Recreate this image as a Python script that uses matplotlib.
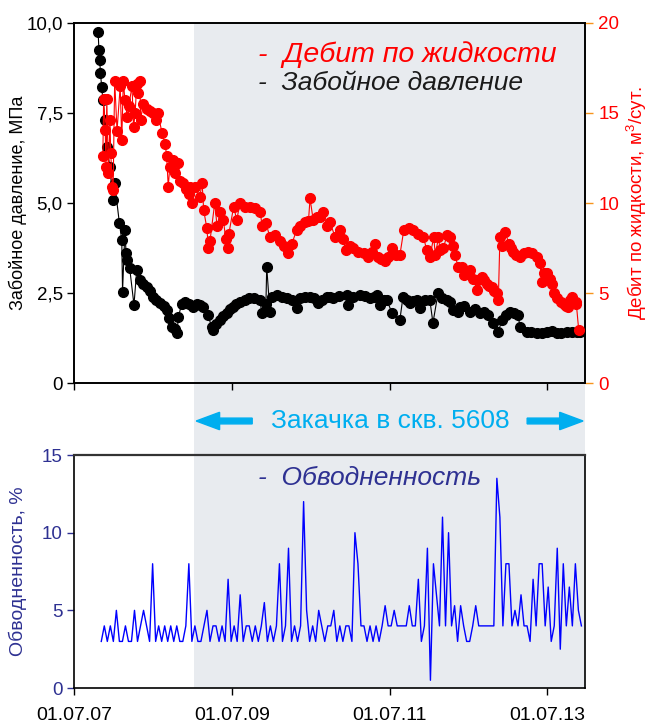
import numpy as np
import matplotlib
matplotlib.use('Agg')
from matplotlib import pyplot as plt
from matplotlib.patches import Rectangle, FancyArrow

plt.rcParams['font.family'] = ['Liberation Sans', 'DejaVu Sans']
plt.rcParams['mathtext.default'] = 'regular'

# ---- data (time in decimal years) ----
p_year = [2007.80, 2007.81, 2007.82, 2007.83, 2007.845, 2007.86, 2007.89, 2007.91, 2007.95, 2007.985,
          2008.01, 2008.07, 2008.10, 2008.11, 2008.14, 2008.155, 2008.17, 2008.20, 2008.255, 2008.29,
          2008.33, 2008.37, 2008.42, 2008.46, 2008.50, 2008.54, 2008.585, 2008.63, 2008.67, 2008.70,
          2008.735, 2008.77, 2008.80, 2008.82, 2008.86, 2008.905, 2008.95, 2009.005, 2009.05, 2009.09,
          2009.13, 2009.195, 2009.24, 2009.26, 2009.30, 2009.35, 2009.39, 2009.43, 2009.47, 2009.51,
          2009.55, 2009.60, 2009.66, 2009.72, 2009.78, 2009.85, 2009.88, 2009.93, 2009.94, 2009.98,
          2010.01, 2010.07, 2010.13, 2010.195, 2010.26, 2010.32, 2010.36, 2010.42, 2010.49, 2010.54,
          2010.59, 2010.64, 2010.70, 2010.74, 2010.78, 2010.86, 2010.955, 2010.97, 2011.04, 2011.125,
          2011.19, 2011.25, 2011.30, 2011.34, 2011.38, 2011.43, 2011.465, 2011.53, 2011.63, 2011.67,
          2011.72, 2011.76, 2011.80, 2011.845, 2011.89, 2011.95, 2012.01, 2012.05, 2012.115, 2012.17,
          2012.225, 2012.27, 2012.305, 2012.37, 2012.395, 2012.45, 2012.52, 2012.58, 2012.65, 2012.70,
          2012.75, 2012.815, 2012.88, 2012.925, 2012.98, 2013.03, 2013.08, 2013.13, 2013.155, 2013.24,
          2013.30, 2013.37, 2013.43, 2013.495, 2013.56, 2013.62, 2013.68, 2013.75, 2013.81, 2013.875,
          2013.92]
pressure = [9.76, 9.25, 8.97, 8.6, 8.23, 7.86, 7.3, 6.56, 6.0, 5.08,
            5.55, 4.44, 3.97, 2.54, 4.25, 3.6, 3.42, 3.2, 2.17, 3.14,
            2.86, 2.75, 2.67, 2.55, 2.40, 2.30, 2.22, 2.15, 2.03, 1.80,
            1.56, 1.50, 1.39, 1.84, 2.20, 2.26, 2.20, 2.12, 2.20, 2.17,
            2.12, 1.89, 1.56, 1.47, 1.65, 1.75, 1.85, 1.94, 2.05, 2.12,
            2.20, 2.26, 2.30, 2.36, 2.36, 2.31, 1.94, 2.20, 3.23, 1.98,
            2.40, 2.44, 2.40, 2.36, 2.30, 2.08, 2.36, 2.40, 2.40, 2.35,
            2.22, 2.30, 2.40, 2.38, 2.36, 2.42, 2.44, 2.17, 2.40, 2.44,
            2.42, 2.36, 2.40, 2.44, 2.17, 2.30, 2.31, 1.94, 1.75, 2.40,
            2.30, 2.22, 2.28, 2.31, 2.08, 2.30, 2.31, 1.67, 2.50, 2.35,
            2.31, 2.25, 2.03, 1.98, 2.12, 2.15, 1.98, 2.05, 1.94, 1.98,
            1.89, 1.67, 1.42, 1.75, 1.90, 1.98, 1.95, 1.89, 1.56, 1.42,
            1.42, 1.39, 1.40, 1.42, 1.45, 1.39, 1.40, 1.42, 1.42, 1.42,
            1.42]

q_year = [2007.86, 2007.87, 2007.89, 2007.90, 2007.91, 2007.93, 2007.95, 2007.96, 2007.98, 2007.99,
          2008.01, 2008.04, 2008.08, 2008.10, 2008.12, 2008.14, 2008.17, 2008.19, 2008.23, 2008.25,
          2008.27, 2008.29, 2008.31, 2008.33, 2008.34, 2008.37, 2008.42, 2008.46, 2008.50, 2008.54,
          2008.56, 2008.61, 2008.65, 2008.67, 2008.69, 2008.71, 2008.75, 2008.78, 2008.82, 2008.84,
          2008.88, 2008.92, 2008.95, 2008.97, 2008.99, 2009.03, 2009.09, 2009.12, 2009.14, 2009.18,
          2009.20, 2009.22, 2009.28, 2009.31, 2009.35, 2009.39, 2009.42, 2009.45, 2009.46, 2009.52,
          2009.56, 2009.60, 2009.67, 2009.73, 2009.79, 2009.86, 2009.88, 2009.93, 2009.98, 2010.05,
          2010.11, 2010.16, 2010.21, 2010.26, 2010.32, 2010.36, 2010.43, 2010.47, 2010.49, 2010.53,
          2010.58, 2010.62, 2010.66, 2010.70, 2010.74, 2010.81, 2010.87, 2010.91, 2010.94, 2011.00,
          2011.04, 2011.10, 2011.17, 2011.23, 2011.28, 2011.32, 2011.35, 2011.39, 2011.44, 2011.48,
          2011.53, 2011.58, 2011.63, 2011.68, 2011.74, 2011.80, 2011.86, 2011.93, 2011.97, 2012.01,
          2012.06, 2012.08, 2012.12, 2012.14, 2012.18, 2012.23, 2012.27, 2012.31, 2012.33, 2012.37,
          2012.42, 2012.45, 2012.48, 2012.52, 2012.56, 2012.61, 2012.62, 2012.67, 2012.70, 2012.73,
          2012.76, 2012.80, 2012.83, 2012.86, 2012.88, 2012.90, 2012.93, 2012.97, 2013.01, 2013.04,
          2013.07, 2013.11, 2013.16, 2013.21, 2013.26, 2013.31, 2013.37, 2013.41, 2013.43, 2013.46,
          2013.50, 2013.53, 2013.56, 2013.59, 2013.62, 2013.67, 2013.71, 2013.74, 2013.77, 2013.79,
          2013.81, 2013.86, 2013.87, 2013.90]
rate = [12.6, 15.8, 14.05, 12.0, 15.8, 11.65, 14.6, 12.8, 10.9, 10.7,
        16.8, 14.0, 16.5, 13.5, 16.8, 15.7, 14.8, 15.4, 16.5, 14.2,
        15.0, 16.6, 16.1, 16.8, 14.6, 15.5, 15.2, 15.1, 15.0, 14.6,
        15.0, 13.9, 13.3, 12.6, 10.9, 12.0, 12.4, 11.65, 12.2, 11.2,
        11.1, 10.8, 10.5, 10.9, 10.0, 10.9, 10.35, 11.1, 9.6, 8.6,
        7.5, 7.9, 10.0, 8.7, 9.5, 9.05, 8.0, 7.5, 8.3, 9.8,
        9.05, 10.0, 9.8, 9.8, 9.7, 9.5, 8.7, 8.9, 8.1, 8.2,
        7.9, 7.6, 7.2, 7.75, 8.5, 8.7, 8.95, 9.0, 10.25, 9.05,
        9.2, 9.25, 9.5, 8.7, 8.95, 8.1, 8.5, 8.0, 7.4, 7.6,
        7.5, 7.3, 7.2, 7.0, 7.3, 7.75, 7.0, 6.9, 6.8, 7.0,
        7.5, 7.1, 7.1, 8.5, 8.6, 8.5, 8.3, 8.1, 7.4, 7.0,
        8.1, 7.1, 8.1, 7.4, 7.5, 8.2, 8.1, 7.6, 7.1, 6.45,
        6.45, 6.0, 6.1, 6.3, 5.8, 5.15, 5.7, 5.9, 5.7, 5.5,
        5.4, 5.35, 5.1, 5.0, 4.6, 8.1, 7.6, 8.4, 7.75, 7.5,
        7.3, 7.1, 7.0, 7.2, 7.3, 7.2, 7.0, 6.65, 5.6, 6.1,
        6.1, 5.8, 5.5, 5.0, 4.7, 4.5, 4.4, 4.3, 4.25, 4.6,
        4.8, 4.5, 4.4, 2.95]

# water cut, one value every two weeks from 01.11.2007
wc_start = 2007.84
wc_step = 14 / 365.25
water_cut = [3, 4, 3, 4, 3, 5, 3, 3, 4, 3, 3, 5, 3, 4, 5, 4, 3, 8, 3, 4,
             3, 4, 3, 4, 3, 4, 3, 3, 4, 8, 3, 4, 3, 3, 4, 5, 3, 4, 4, 3,
             4, 3, 7, 3, 4, 3, 6, 3, 4, 4, 3, 4, 3, 4, 5.5, 3, 4, 3, 4, 8,
             3, 4, 9, 3, 4, 3, 4, 12, 5, 3, 4, 3, 5, 4, 3, 4, 4, 5, 3, 4,
             3, 4, 4, 3, 10, 8, 4, 4, 3, 4, 3, 4, 3, 4, 5.3, 4, 4, 5, 4, 4,
             4, 4, 5.3, 4, 4, 7, 3, 4, 9, 0.5, 8, 6, 4, 11, 4, 10, 4, 5.3, 3, 5.3,
             4, 3, 3, 4, 5.3, 4, 4, 4, 4, 4, 4, 13.5, 11, 4, 8, 8, 4, 5, 4, 6,
             4, 4, 3, 7, 4, 8, 8, 4, 6.5, 3, 4, 9, 2.5, 8, 4, 6.5, 4, 8, 5, 4]
wc_year = wc_start + wc_step * np.arange(len(water_cut))

tick_years = [2007.5, 2009.5, 2011.5, 2013.5]
tick_labels = ['01.07.07', '01.07.09', '01.07.11', '01.07.13']
injection_start = 2009.02
x_min, x_max = 2007.5, 2013.98

# ---- colours ----
RED = '#ff0000'
NAVY = '#2e3192'
BLUE = '#0000ff'
CYAN = '#00aeef'
ORANGE = '#f7941d'
SHADE = '#e8ebef'

fig = plt.figure(figsize=(6.5, 7.25), dpi=100)
ax1 = fig.add_axes([0.1146, 0.4717, 0.7854, 0.4966])
ax3 = fig.add_axes([0.1146, 0.051, 0.7854, 0.3214])
for a in (ax1, ax3):
    a.set_facecolor('none')
    a.set_xlim(x_min, x_max)

# top panel: pressure (left) and rate (right)
ax1.plot(p_year, pressure, '-', color='black', lw=0.8, marker='o', ms=7,
         mec='black', mfc='black', zorder=4)
ax1.set_ylim(0, 10)
ax1.set_yticks([0, 2.5, 5, 7.5, 10])
ax1.set_yticklabels(['0', '2,5', '5,0', '7,5', '10,0'])
ax1.set_ylabel('Забойное давление, МПа', fontsize=13)
ax1.yaxis.set_label_coords(-0.094, 0.5)
ax1.set_xticks(tick_years)
ax1.set_xticklabels([])
ax1.tick_params(axis='both', direction='out', length=5, width=1, labelsize=13.5)

ax2 = ax1.twinx()
ax2.set_facecolor('none')
ax2.plot(q_year, rate, '-', color=RED, lw=0.8, marker='o', ms=7,
         mec=RED, mfc=RED, zorder=3)
ax2.set_ylim(0, 20)
ax2.set_yticks([0, 5, 10, 15, 20])
ax2.tick_params(axis='y', direction='out', length=6, width=1, colors=ORANGE,
                labelcolor=RED, labelsize=13.5)
ax2.set_ylabel('Дебит по жидкости, м$^{3}$/сут.', color=RED, fontsize=13.5, labelpad=4)
for a in (ax1, ax2):
    for s in a.spines.values():
        s.set_linewidth(1.2)

ax1.text(0.359, 0.911, '-  Дебит по жидкости', transform=ax1.transAxes, color=RED,
         fontsize=20.5, style='italic', va='center', ha='left', zorder=6)
ax1.text(0.359, 0.833, '-  Забойное давление', transform=ax1.transAxes, color='#1a1a1a',
         fontsize=19, style='italic', va='center', ha='left', zorder=6)

# bottom panel: water cut
ax3.plot(wc_year, water_cut, '-', color=BLUE, lw=1.0, zorder=3)
ax3.set_ylim(0, 15)
ax3.set_yticks([0, 5, 10, 15])
ax3.set_xticks(tick_years)
ax3.set_xticklabels(tick_labels)
ax3.tick_params(axis='x', direction='out', length=5, width=1, labelsize=14, pad=9)
ax3.tick_params(axis='y', direction='out', length=5, width=1, colors=NAVY, labelsize=13.5)
ax3.set_ylabel('Обводненность, %', color=NAVY, fontsize=14)
ax3.yaxis.set_label_coords(-0.094, 0.5)
for s in ax3.spines.values():
    s.set_linewidth(1.2)
ax3.spines['top'].set_color('#333333')
ax3.spines['top'].set_linewidth(1.6)
ax3.text(0.359, 0.901, '-  Обводненность', transform=ax3.transAxes, color=NAVY,
         fontsize=19, style='italic', va='center', ha='left')

# shaded injection period across both panels
fig.canvas.draw()
to_fig = fig.transFigure.inverted()
x0 = to_fig.transform(ax1.transData.transform((injection_start, 0)))[0]
x1 = to_fig.transform(ax1.transData.transform((x_max, 0)))[0]
y_top = ax1.get_position().y1
y_bot = ax3.get_position().y0
fig.patches.append(Rectangle((x0, y_bot), x1 - x0, y_top - y_bot, transform=fig.transFigure,
                             facecolor=SHADE, edgecolor='none', zorder=-10))

# injection annotation between panels
y_arr = 1 - 421 / 725.0
fig.text(0.6, y_arr, 'Закачка в скв. 5608', color=CYAN, fontsize=19,
         ha='center', va='center')
fig.patches.append(FancyArrow(0.388, y_arr, x0 + 0.003 - 0.388, 0, width=0.008,
                              head_width=0.024, head_length=0.036, length_includes_head=True,
                              color=CYAN, transform=fig.transFigure))
fig.patches.append(FancyArrow(0.811, y_arr, x1 - 0.003 - 0.811, 0, width=0.008,
                              head_width=0.024, head_length=0.036, length_includes_head=True,
                              color=CYAN, transform=fig.transFigure))

fig.savefig('out.png', dpi=100)
